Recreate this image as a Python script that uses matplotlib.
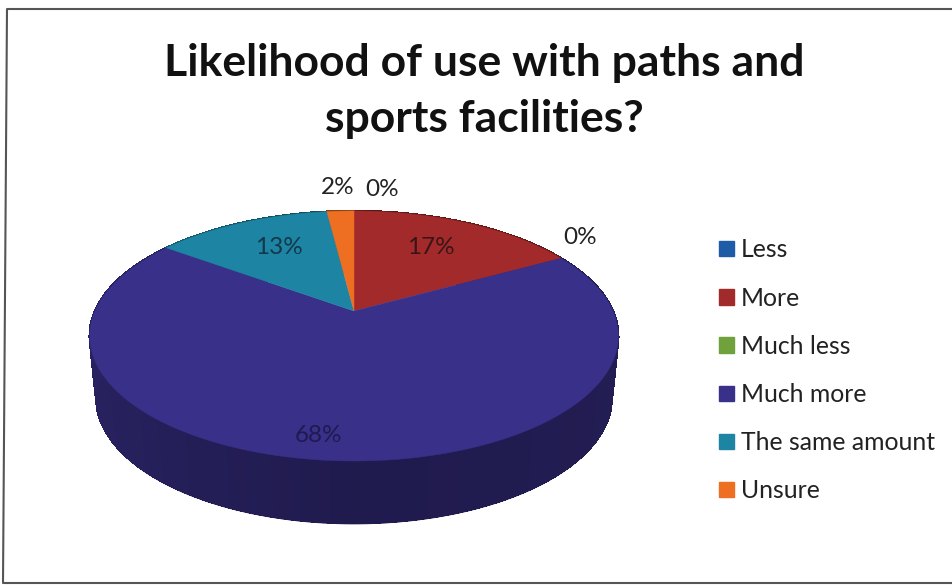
import numpy as np
import matplotlib
matplotlib.use('Agg')
from matplotlib import pyplot as plt
from matplotlib.colors import to_rgb
from matplotlib.patches import Patch

categories = ['Less', 'More', 'Much less', 'Much more', 'The same amount', 'Unsure']
percent = [0, 17, 0, 68, 13, 2]
colors = ['#1F5CA8', '#A32A2B', '#6FA23C', '#39308A', '#1D84A3', '#EE6F22']

plt.rcParams['font.family'] = ['Lato', 'DejaVu Sans']

# pie geometry in image pixels
cx, cy = 354, 336
rx, ry = 259, 125
tilt = 0.2
depth = 63
bottom_scale = 0.975


def rim(angle):
    # circle point seen with perspective, angle is clockwise from the top
    X = np.sin(angle)
    Y = np.cos(angle)
    d = 1 + tilt * Y
    return cx + rx * X / d, cy - (ry * Y + ry * tilt) / d


def rim_low(angle):
    x, y = rim(angle)
    return cx + (x - cx) * bottom_scale, y + depth


fig = plt.figure(figsize=(9.52, 5.85), dpi=100)
ax = fig.add_axes([0, 0, 1, 1])
ax.set_xlim(0, 952)
ax.set_ylim(585, 0)
ax.set_axis_off()

# scanned frame
ax.plot([952, 7, 3, 952], [9, 9, 583, 583], color='#555555', lw=1.5)

edges = np.cumsum([0] + percent) / sum(percent) * 2 * np.pi

# side wall first, top faces go over it
for i in range(len(percent)):
    if percent[i] == 0:
        continue
    t = np.linspace(edges[i], edges[i + 1], 200)
    x1, y1 = rim(t)
    x2, y2 = rim_low(t)
    base = np.array(to_rgb(colors[i]))
    ax.fill(np.r_[x1, x2[::-1]], np.r_[y1, y2[::-1]], color=tuple(base * 0.62), lw=0.5, zorder=1)
    # slightly lighter on the left, drawn in steps without seams
    t = np.linspace(edges[i], edges[i + 1], int(percent[i] * 2) + 2)
    for a, b in zip(t[:-1], t[1:]):
        shade = 0.56 + 0.14 * max(0, -np.sin(a)) + 0.04 * max(0, np.sin(a))
        xa, ya = rim(a)
        xb, yb = rim(b)
        xc, yc = rim_low(b)
        xd, yd = rim_low(a)
        ax.fill([xa, xb, xc, xd], [ya, yb, yc - 1, yd - 1], color=tuple(base * shade),
                lw=1, antialiased=False, zorder=1.5)

apex_y = cy - ry * tilt
for i in range(len(percent)):
    if percent[i] == 0:
        continue
    t = np.linspace(edges[i], edges[i + 1], 200)
    x, y = rim(t)
    ax.fill(np.r_[cx, x], np.r_[apex_y, y], color=colors[i], lw=0.3, zorder=2)

ax.text(484, 91, 'Likelihood of use with paths and\nsports facilities?', fontsize=32,
        fontweight='bold', color='#111111', ha='center', va='center', linespacing=1.46)

labels = ['0%', '17%', '0%', '68%', '13%', '2%']
label_x = [382, 431, 580, 319, 279, 338]
label_y = [189, 248, 237, 435, 247, 187]
label_colors = ['#222222', '#3a1518', '#222222', '#1f1a50', '#12384a', '#222222']
for text, lx, ly, c in zip(labels, label_x, label_y, label_colors):
    ax.text(lx, ly, text, fontsize=17.5, ha='center', va='center', zorder=3, color=c)

handles = [Patch(color=c) for c in colors]
ax.legend(handles, categories, loc='upper left', bbox_to_anchor=(707 / 952, 1 - 226 / 585),
          frameon=False, fontsize=17.8, labelspacing=1.02, handlelength=0.58,
          handleheight=0.58, handletextpad=0.3, borderpad=0, labelcolor='#222222')

fig.savefig('out.png', dpi=100)
